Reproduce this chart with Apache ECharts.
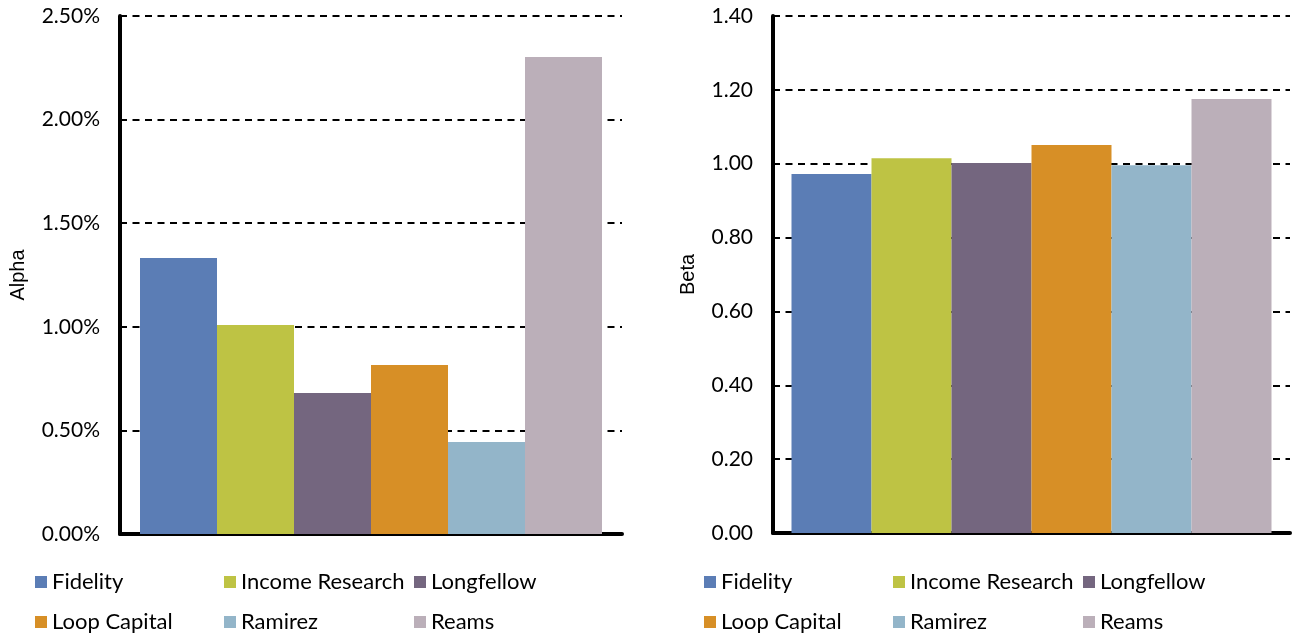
<!DOCTYPE html>
<html><head><meta charset="utf-8">
<script src="https://cdn.jsdelivr.net/npm/echarts@6/dist/echarts.min.js"></script>
<style>html,body{margin:0;padding:0;background:#fff}#c{width:1294px;height:636px}</style>
</head><body><div id="c"></div>
<script>
const managers = ['Fidelity','Income Research','Longfellow','Loop Capital','Ramirez','Reams'];
const colors = ['#5B7DB5','#BEC344','#74667F','#D78F26','#93B5C9','#BBAFB9'];
const alphaValues = [1.332, 1.009, 0.680, 0.816, 0.444, 2.302];
const betaValues = [0.972, 1.015, 1.002, 1.051, 0.996, 1.175];
const alphaTicks = {min:0, max:2.5, interval:0.5};
const betaTicks = {min:0, max:1.4, interval:0.2};

const FONT = 'Lato';
const NAMEFONT = 'Liberation Sans';
const chart = echarts.init(document.getElementById('c'), null, {renderer:'canvas'});

function yAxis(gridIndex, ticks, name, fmt, nameGap){
  return {
    type:'value', gridIndex, min:ticks.min, max:ticks.max, interval:ticks.interval,
    name, nameLocation:'middle', nameGap, nameRotate:90,
    nameTextStyle:{fontFamily:NAMEFONT, fontSize:20, color:'#000'},
    axisLine:{show:true, lineStyle:{color:'#000', width:4}},
    axisTick:{show:false},
    axisLabel:{fontFamily:FONT, fontSize:21, color:'#000', margin:20, formatter:fmt},
    splitLine:{show:true, lineStyle:{color:'#000', width:1.8, type:[7,5.5]}}
  };
}
function xAxis(gridIndex){
  return {
    type:'category', gridIndex, data:[''],
    axisLine:{show:true, lineStyle:{color:'#000', width:4}},
    axisTick:{show:false}, axisLabel:{show:false}, splitLine:{show:false}
  };
}

const series = [];
managers.forEach((m,i)=>{
  series.push({name:m, type:'bar', xAxisIndex:0, yAxisIndex:0, data:[alphaValues[i]],
    barWidth:77, barGap:'0%', itemStyle:{color:colors[i]}, z:1});
});
managers.forEach((m,i)=>{
  series.push({name:m, type:'bar', xAxisIndex:1, yAxisIndex:1, data:[betaValues[i]],
    barWidth:80, barGap:'0%', itemStyle:{color:colors[i]}, z:1});
});

const legendCols = [[35,704],[224,893],[414,1083]];
const legends = [];
managers.forEach((m,i)=>{
  const col = i%3, row = Math.floor(i/3);
  [0,1].forEach(side=>{
    legends.push({
      data:[m], left:legendCols[col][side], top: row===0 ? 571 : 611,
      padding:0, itemWidth:12, itemHeight:12, itemGap:0, icon:'rect',
      textStyle:{fontFamily:FONT, fontSize:22, color:'#000', padding:[0,0,0,0]},
      selectedMode:false
    });
  });
});

chart.setOption({
  animation:false,
  textStyle:{fontFamily:FONT},
  grid:[
    {left:120, top:16, width:502, height:518},
    {left:773, top:16, width:517, height:517}
  ],
  xAxis:[xAxis(0), xAxis(1)],
  yAxis:[
    yAxis(0, alphaTicks, 'Alpha', v=>v.toFixed(2)+'%', 92),
    yAxis(1, betaTicks, 'Beta', v=>v.toFixed(2), 75)
  ],
  legend:legends,
  series
});
</script></body></html>
